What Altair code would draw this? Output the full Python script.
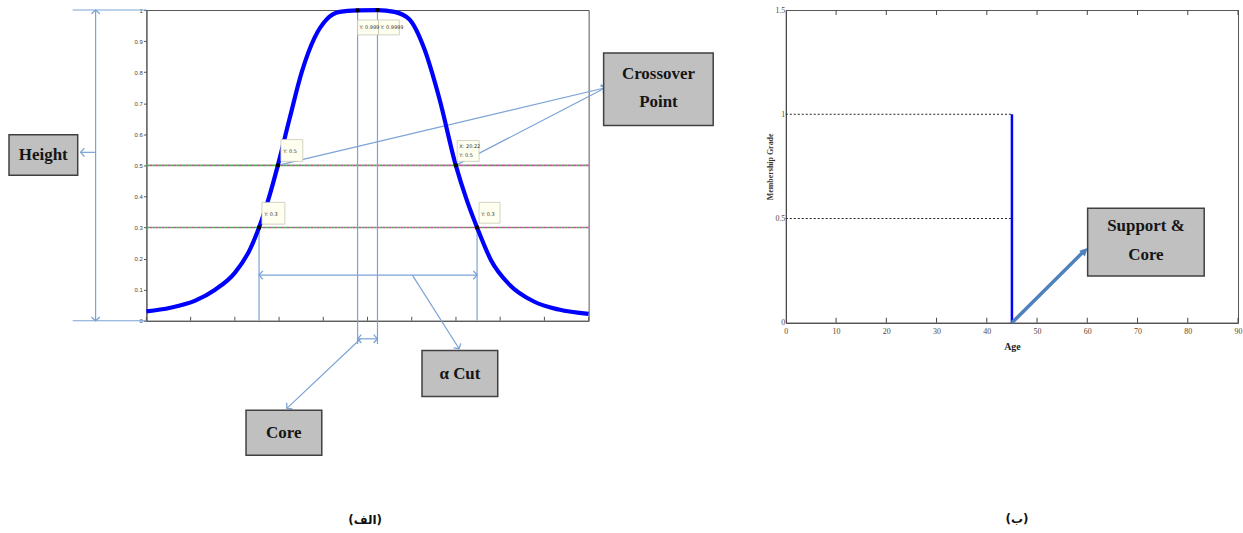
import math
import altair as alt
import pandas as pd

# ---------------- data: left panel (bell-shaped membership function) ----------------
curve_x = [0.00, 1.56, 3.19, 4.49, 5.79, 6.77, 7.36, 8.07, 8.59, 9.37, 10.15, 11.00,
           11.78, 12.63, 13.80, 15.10, 16.21, 17.18, 18.16, 19.14, 20.22, 20.96,
           21.61, 22.52, 23.69, 25.32, 26.95, 28.90]
curve_y = [0.030, 0.042, 0.065, 0.100, 0.155, 0.230, 0.300, 0.407, 0.500, 0.653,
           0.800, 0.912, 0.970, 0.994, 0.999, 0.9999, 0.994, 0.970, 0.875, 0.716,
           0.500, 0.385, 0.300, 0.195, 0.118, 0.062, 0.036, 0.022]
cut_levels = [0.5, 0.3]
tip_x = [8.59, 20.22, 7.36, 21.61, 13.80, 15.10]
tip_y = [0.5, 0.5, 0.3, 0.3, 0.999, 0.9999]
left_yticks = [0, 0.1, 0.2, 0.3, 0.4, 0.5, 0.6, 0.7, 0.8, 0.9, 1.0]
left_xticks = [0, 2.89, 5.78, 8.67, 11.56, 14.45, 17.34, 20.23, 23.12, 26.01, 28.9]

# ---------------- data: right panel (crisp step set) ----------------
step_x = [45, 45]
step_y = [0, 1]
ref_levels = [1.0, 0.5]
right_xticks = [0, 10, 20, 30, 40, 50, 60, 70, 80, 90]
right_yticks = [0, 0.5, 1.0, 1.5]

# ---------------- style ----------------
BLUE_NOTE = "#7ba3d6"
BOX_FILL = "#c0c0c0"
BOX_EDGE = "#404040"
SERIF = "Liberation Serif"
CHEVRON = "M -1 0.9 L 0 0 L 1 0.9"
TRIANGLE = "M 0 0 L -0.75 1.5 L 0.75 1.5 Z"

LW, LH = 444, 312
RW, RH = 454, 314
XL_MAX = 28.9
SXL, SYL = LW / XL_MAX, LH / 1.0
SXR, SYR = RW / 90.0, RH / 1.5


def heads(rows, sx, sy):
    """Arrow-head anchors (tip point and rotation toward the tip)."""
    out = []
    for xt, yt, xf, yf in rows:
        ang = math.degrees(math.atan2((xt - xf) * sx, (yt - yf) * sy)) % 360
        out.append({"x": xt, "y": yt, "angle": ang})
    return pd.DataFrame(out)


xsL = alt.Scale(domain=[0, XL_MAX], nice=False, zero=False)
ysL = alt.Scale(domain=[0, 1], nice=False, zero=False)
XL = alt.X("x:Q", scale=xsL, axis=alt.Axis(ticks=False, labels=False, grid=False,
                                            domainColor="#555", title=None))
YL = alt.Y("y:Q", scale=ysL, axis=alt.Axis(values=left_yticks, format=".1~f", grid=False,
                                            labelFontSize=6, labelColor="#444",
                                            labelFont="Liberation Sans", tickSize=3,
                                            tickColor="#555", domainColor="#555",
                                            labelPadding=1, title=None))

curve_df = pd.DataFrame({"x": curve_x, "y": curve_y})
levels_df = pd.DataFrame({"x": [0.0] * len(cut_levels), "x2": [XL_MAX] * len(cut_levels),
                          "y": cut_levels})
tips_df = pd.DataFrame({"x": tip_x, "y": tip_y})
xt_df = pd.DataFrame({"x": left_xticks})

# annotation leader lines (x, y) -> (x2, y2)
seg_rows = [
    (-3.32, 0.0, -3.32, 1.0), (-4.82, 1.0, 0.0, 1.0), (-4.82, 0.0, 0.0, 0.0),
    (-3.32, 0.542, -4.30, 0.542),
    (8.59, 0.5, 30.0, 0.75), (20.22, 0.5, 30.0, 0.75),
    (7.36, 0.3, 7.36, 0.0), (21.61, 0.3, 21.61, 0.0), (7.36, 0.147, 21.61, 0.147),
    (17.38, 0.147, 20.44, -0.09),
    (13.80, 1.0, 13.80, -0.075), (15.10, 1.0, 15.10, -0.075),
    (13.80, -0.058, 15.10, -0.058), (14.0, -0.058, 9.18, -0.282),
]
segs_df = pd.DataFrame(seg_rows, columns=["x", "y", "x2", "y2"])
heads_df = heads([
    (-3.32, 1.0, -3.32, 0.5), (-3.32, 0.0, -3.32, 0.5), (-4.30, 0.542, -3.32, 0.542),
    (30.0, 0.75, 8.59, 0.5), (30.0, 0.75, 20.22, 0.5),
    (7.36, 0.147, 15.0, 0.147), (21.61, 0.147, 15.0, 0.147), (20.44, -0.09, 17.38, 0.147),
    (13.80, -0.058, 14.45, -0.058), (15.10, -0.058, 14.45, -0.058),
    (9.18, -0.282, 14.0, -0.058),
], SXL, SYL)

boxes_L = pd.DataFrame([
    (-8.98, -4.49, 0.468, 0.599),
    (29.88, 37.04, 0.628, 0.862),
    (18.01, 22.96, -0.244, -0.096),
    (6.51, 11.46, -0.433, -0.288),
], columns=["x", "x2", "y", "y2"])
box_text_L = pd.DataFrame([
    (-6.74, 0.533, "Height"), (33.46, 0.795, "Crossover"), (33.46, 0.705, "Point"),
    (20.49, -0.170, "α Cut"), (8.98, -0.360, "Core"),
], columns=["x", "y", "t"])

# small data-tip boxes
tipbox_df = pd.DataFrame([
    (8.79, 10.22, 0.513, 0.583), (20.31, 21.74, 0.513, 0.580),
    (7.55, 9.05, 0.311, 0.381), (21.74, 23.11, 0.314, 0.381),
    (13.80, 15.17, 0.920, 0.968), (15.17, 16.53, 0.920, 0.968),
], columns=["x", "x2", "y", "y2"])
tiptext_df = pd.DataFrame([
    (8.95, 0.545, "Y: 0.5"), (20.45, 0.561, "X: 20.22"), (20.45, 0.532, "Y: 0.5"),
    (7.70, 0.343, "Y: 0.3"), (21.88, 0.343, "Y: 0.3"),
    (13.92, 0.944, "Y: 0.999"), (15.29, 0.944, "Y: 0.9999"),
], columns=["x", "y", "t"])
cap_L = pd.DataFrame({"x": [14.3], "y": [-0.64], "t": ["(الف)"]})

lev_g = alt.Chart(levels_df).mark_rule(color="#4caf50", strokeWidth=1.6, strokeDash=[3, 3]).encode(
    x=XL, x2="x2:Q", y=YL)
lev_m = alt.Chart(levels_df).mark_rule(color="#c0509a", strokeWidth=1.6, strokeDash=[3, 3],
                                       strokeDashOffset=3).encode(x=XL, x2="x2:Q", y=YL)
segs = alt.Chart(segs_df).mark_rule(color=BLUE_NOTE, strokeWidth=1.2, clip=False).encode(
    x=XL, y=YL, x2="x2:Q", y2="y2:Q")
xticks_L = alt.Chart(xt_df).mark_rule(color="#555", strokeWidth=1).encode(
    x=XL, y=alt.value(LH), y2=alt.value(LH - 4))
curve = alt.Chart(curve_df).mark_line(color="#0000ff", strokeWidth=4.2, interpolate="monotone").encode(
    x=XL, y=YL)
tip_boxes = alt.Chart(tipbox_df).mark_rect(fill="#fffff0", stroke="#c8c8b8", strokeWidth=0.8).encode(
    x=XL, x2="x2:Q", y=YL, y2="y2:Q")
tip_text = alt.Chart(tiptext_df).mark_text(align="left", baseline="middle", fontSize=5,
                                           font="DejaVu Sans", color="#333").encode(
    x=XL, y=YL, text="t:N")
tip_pts = alt.Chart(tips_df).mark_square(color="black", size=14, opacity=1).encode(x=XL, y=YL)
heads_L = alt.Chart(heads_df).mark_point(shape=CHEVRON, filled=False, size=70, strokeWidth=1.3,
                                         color=BLUE_NOTE, opacity=1, clip=False).encode(
    x=XL, y=YL, angle=alt.Angle("angle:Q", scale=None))
boxL = alt.Chart(boxes_L).mark_rect(fill=BOX_FILL, stroke=BOX_EDGE, strokeWidth=1.5, clip=False).encode(
    x=XL, x2="x2:Q", y=YL, y2="y2:Q")
boxL_text = alt.Chart(box_text_L).mark_text(font=SERIF, fontSize=17, fontWeight="bold",
                                            color="#151515", baseline="middle", clip=False).encode(
    x=XL, y=YL, text="t:N")
capL = alt.Chart(cap_L).mark_text(font="DejaVu Sans", fontSize=12, fontWeight="bold",
                                  color="#111", baseline="middle").encode(x=XL, y=YL, text="t:N")

left = alt.layer(lev_g, lev_m, segs, xticks_L, curve, tip_boxes, tip_text, tip_pts, heads_L,
                 boxL, boxL_text, capL).properties(width=LW, height=LH)

# ---------------- right panel ----------------
xsR = alt.Scale(domain=[0, 90], nice=False, zero=False)
ysR = alt.Scale(domain=[0, 1.5], nice=False, zero=False)
XR = alt.X("x:Q", scale=xsR, axis=alt.Axis(values=right_xticks, format="d", grid=False, tickSize=0,
                                            labelFlush=False,
                                            labelFont=SERIF, labelFontSize=8, labelColor="#5a4632",
                                            labelPadding=5, domainColor="#444", title="Age",
                                            titleFont=SERIF, titleFontSize=10, titleFontWeight="bold",
                                            titleColor="#222", titlePadding=6))
YR = alt.Y("y:Q", scale=ysR, axis=alt.Axis(values=right_yticks, format=".1~f", grid=False, tickSize=0,
                                            labelFlush=False,
                                            labelFont=SERIF, labelFontSize=8, labelColor="#5a4632",
                                            labelPadding=1, domainColor="#444",
                                            title="Membership Grade", titleFont=SERIF,
                                            titleFontSize=8, titleFontWeight="bold",
                                            titleColor="#333", titlePadding=0))

ref_df = pd.DataFrame({"x": [0.0] * len(ref_levels), "x2": [45.0] * len(ref_levels), "y": ref_levels})
step_df = pd.DataFrame({"x": step_x, "y": step_y})
xt_r = pd.DataFrame({"x": right_xticks[1:]})
arrow_R = pd.DataFrame({"x": [45.0], "y": [0.0], "x2": [59.4], "y2": [0.345]})
headR_df = heads([(60.07, 0.358, 45.0, 0.0)], SXR, SYR)
boxR_df = pd.DataFrame({"x": [60.07], "x2": [83.27], "y": [0.224], "y2": [0.549]})
boxR_text = pd.DataFrame({"x": [71.67, 71.67], "y": [0.463, 0.325], "t": ["Support &", "Core"]})
cap_R = pd.DataFrame({"x": [46.0], "y": [-0.94], "t": ["(ب)"]})

refs = alt.Chart(ref_df).mark_rule(color="#222", strokeWidth=1, strokeDash=[2, 2]).encode(
    x=XR, x2="x2:Q", y=YR)
ticks_bot = alt.Chart(xt_r).mark_rule(color="#444", strokeWidth=1).encode(
    x=XR, y=alt.value(RH), y2=alt.value(RH - 5))
ticks_top = alt.Chart(xt_r).mark_rule(color="#444", strokeWidth=1).encode(
    x=XR, y=alt.value(0), y2=alt.value(5))
step = alt.Chart(step_df).mark_line(color="#0000ff", strokeWidth=2.5).encode(x=XR, y=YR)
arrR = alt.Chart(arrow_R).mark_rule(color="#4f81bd", strokeWidth=3.5, clip=False).encode(
    x=XR, y=YR, x2="x2:Q", y2="y2:Q")
headR = alt.Chart(headR_df).mark_point(shape=TRIANGLE, filled=True, size=110, color="#4f81bd",
                                       opacity=1, clip=False).encode(
    x=XR, y=YR, angle=alt.Angle("angle:Q", scale=None))
boxR = alt.Chart(boxR_df).mark_rect(fill=BOX_FILL, stroke=BOX_EDGE, strokeWidth=1.5).encode(
    x=XR, x2="x2:Q", y=YR, y2="y2:Q")
boxR_t = alt.Chart(boxR_text).mark_text(font=SERIF, fontSize=17, fontWeight="bold", color="#151515",
                                        baseline="middle").encode(x=XR, y=YR, text="t:N")
capR = alt.Chart(cap_R).mark_text(font="DejaVu Sans", fontSize=12, fontWeight="bold", color="#111",
                                  baseline="middle", clip=False).encode(x=XR, y=YR, text="t:N")

right = alt.layer(refs, ticks_bot, ticks_top, step, arrR, headR, boxR, boxR_t, capR).properties(
    width=RW, height=RH)

chart = alt.hconcat(left, right, spacing=51).properties(
    padding={"left": 7, "top": 0, "right": 0, "bottom": 0},
    background="white",
).configure_view(stroke="#555", strokeWidth=1)

chart.save("out.html", embed_options={"renderer": "svg", "actions": False})
